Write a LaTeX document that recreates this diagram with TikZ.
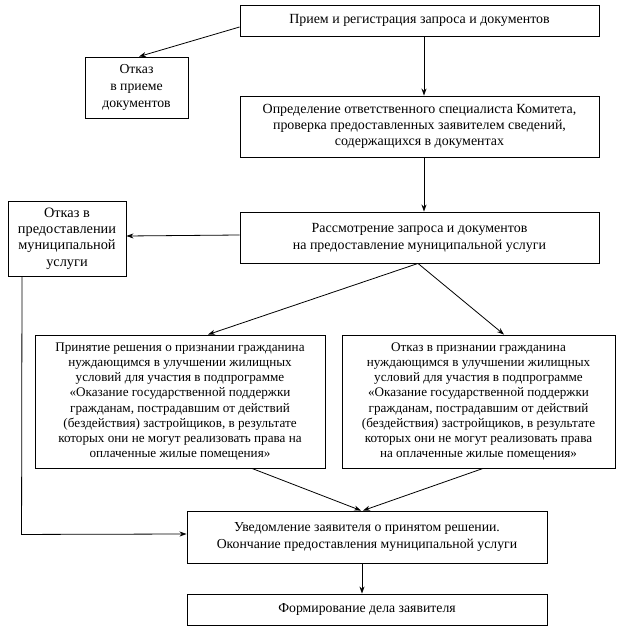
\documentclass[tikz,border=0pt]{standalone}
\usepackage{fontspec}
\setmainfont{Liberation Serif}
\usetikzlibrary{arrows.meta,calc}
\tikzset{
  box/.style={draw, line width=0.9bp, inner sep=0pt, align=center, anchor=center,
    font=\fontsize{14}{16.5}\selectfont},
  dbox/.style={box, font=\fontsize{13.2}{15.3}\selectfont},
  arr/.style={line width=0.8bp, -{Stealth[length=7bp,width=5bp]}},
}
\begin{document}
\begin{tikzpicture}[x=1bp,y=-1bp]
\useasboundingbox (0,0) rectangle (623,635);
% boxes (centres from pixel extents)
\node[box, minimum width=359bp, minimum height=31bp] (b1) at (419.5,20.5) {Прием и регистрация запроса и документов};
\node[box, minimum width=103bp, minimum height=61bp, font=\fontsize{13.8}{17}\selectfont] (r1) at (136.5,87.5) {Отказ\\в приеме\\документов};
\node[box, minimum width=359bp, minimum height=61bp, font=\fontsize{14}{16}\selectfont] (b2) at (419.5,126.5) {Определение ответственного специалиста Комитета,\\проверка предоставленных заявителем сведений,\\содержащихся в документах};
\node[box, minimum width=118bp, minimum height=75bp, font=\fontsize{14.4}{16.5}\selectfont] (r2) at (67,238.5) {Отказ в\\предоставлении\\муниципальной\\услуги};
\node[box, minimum width=359bp, minimum height=51bp, font=\fontsize{14}{17}\selectfont] (b3) at (419.5,237.5) {Рассмотрение запроса и документов\\на предоставление муниципальной услуги};
\node[dbox, minimum width=290bp, minimum height=133bp] (dl) at (180,401.5) {Принятие решения о признании гражданина\\нуждающимся в улучшении жилищных\\условий для участия в подпрограмме\\«Оказание государственной поддержки\\гражданам, пострадавшим от действий\\(бездействия) застройщиков, в результате\\которых они не могут реализовать права на\\оплаченные жилые помещения»};
\node[dbox, minimum width=273bp, minimum height=133bp] (dr) at (478.5,401.5) {Отказ в признании гражданина\\нуждающимся в улучшении жилищных\\условий для участия в подпрограмме\\«Оказание государственной поддержки\\гражданам, пострадавшим от действий\\(бездействия) застройщиков, в результате\\которых они не могут реализовать права\\на оплаченные жилые помещения»};
\node[box, minimum width=360bp, minimum height=52bp, font=\fontsize{13.8}{17}\selectfont] (nt) at (367,537) {Уведомление заявителя о принятом решении.\\Окончание предоставления муниципальной услуги};
\node[box, minimum width=360bp, minimum height=31bp, font=\fontsize{13.8}{17}\selectfont] (fm) at (367,609.5) {Формирование дела заявителя};
% connectors
\draw[arr] ([yshift=-6.5bp]b1.west) -- ([xshift=2.5bp]r1.north);
\draw[arr] ([xshift=4.5bp]b1.south) -- ([xshift=4.5bp]b2.north);
\draw[arr] ([xshift=4.5bp]b2.south) -- ([xshift=4.5bp]b3.north);
\draw[arr] ([yshift=2.5bp]b3.west) -- ([yshift=2.5bp]r2.east);
\draw[arr] ([xshift=-1.5bp]b3.south) -- ([xshift=28bp]dl.north);
\draw[arr] ([xshift=-1.5bp]b3.south) -- ([xshift=25.5bp]dr.north);
\draw[arr] ([xshift=72bp]dl.south) -- ([xshift=-6bp]nt.north);
\draw[arr] ([xshift=4.5bp]dr.south) -- ([xshift=-4bp]nt.north);
\coordinate (bend) at ($(r2.south west)+(14,258)$);
\draw[arr] ([xshift=-45bp]r2.south) -- (bend) -- ([yshift=3bp]nt.west);
\draw[arr] ([xshift=-5bp]nt.south) -- ([xshift=-5bp]fm.north);
\end{tikzpicture}
\end{document}
